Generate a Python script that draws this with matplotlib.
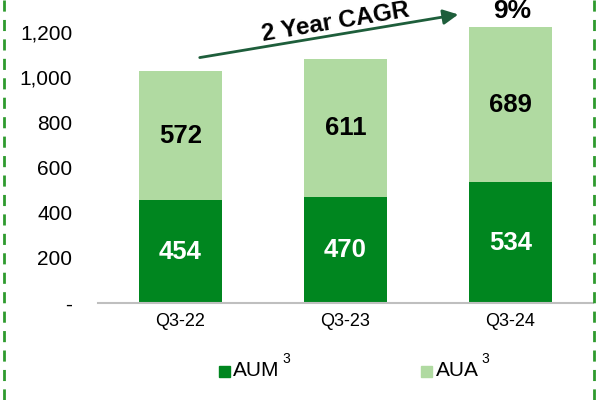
import matplotlib.pyplot as plt
import numpy as np

plt.rcParams['font.family'] = ['Liberation Sans', 'DejaVu Sans']

quarters = ['Q3-22', 'Q3-23', 'Q3-24']
aum = [454, 470, 534]
aua = [572, 611, 689]
yticks = [0, 200, 400, 600, 800, 1000, 1200]
ytick_labels = ['-', '200', '400', '600', '800', '1,000', '1,200']

dark = '#00861F'
light = '#B0DAA1'

fig = plt.figure(figsize=(5.98, 4.0), dpi=100)
ax = fig.add_axes([98/598, 1 - 303/400, 495/598, 303/400])

x = np.arange(len(quarters))
ax.bar(x, aum, width=0.5, color=dark)
ax.bar(x, aua, width=0.5, bottom=aum, color=light)

for i in range(len(quarters)):
    ax.text(x[i], aum[i] / 2, str(aum[i]), ha='center', va='center',
            color='white', fontsize=18.5, fontweight='bold')
    ax.text(x[i], aum[i] + aua[i] / 2, str(aua[i]), ha='center', va='center',
            color='black', fontsize=18.5, fontweight='bold')

ax.set_xlim(-0.5, 2.5)
ax.set_ylim(0, 1342)
ax.set_yticks(yticks)
ax.set_yticklabels(ytick_labels, fontsize=15)
ax.set_xticks(x)
ax.set_xticklabels(quarters, fontsize=13)
ax.tick_params(axis='y', length=0, pad=18.5)
ax.tick_params(axis='x', length=0, pad=7)
for s in ['top', 'right', 'left']:
    ax.spines[s].set_visible(False)
ax.spines['bottom'].set_color('#BFBFBF')
ax.spines['bottom'].set_linewidth(1.5)

# CAGR arrow
ax.annotate('', xy=(1.70, 1280), xytext=(0.1, 1085),
            arrowprops=dict(arrowstyle='-|>,head_length=0.9,head_width=0.45',
                            color='#1E5E3B', lw=2))
ax.text(0.94, 1244, '2 Year CAGR', ha='center', va='center', rotation=9.5,
        fontsize=17.5, fontweight='bold')
ax.text(2.01, 1292, '9%', ha='center', va='center', fontsize=19, fontweight='bold')

# legend
fig.patches.append(plt.Rectangle((219/598, 1 - 377/400), 11/598, 11/400,
                                 transform=fig.transFigure, color=dark))
fig.text(233/598, 1 - 371/400, 'AUM', fontsize=15, va='center')
fig.text(282/598, 1 - 359/400, '3', fontsize=10, va='center')
fig.patches.append(plt.Rectangle((421/598, 1 - 377/400), 11/598, 11/400,
                                 transform=fig.transFigure, color=light))
fig.text(436/598, 1 - 371/400, 'AUA', fontsize=15, va='center')
fig.text(481/598, 1 - 359/400, '3', fontsize=10, va='center')

# dashed border
for xb in [4/598, 594/598]:
    fig.add_artist(plt.Line2D([xb, xb], [0, 1], transform=fig.transFigure,
                              color='#2E9A2E', lw=2, ls=(0, (4, 3))))

fig.savefig('out.png', dpi=100)
